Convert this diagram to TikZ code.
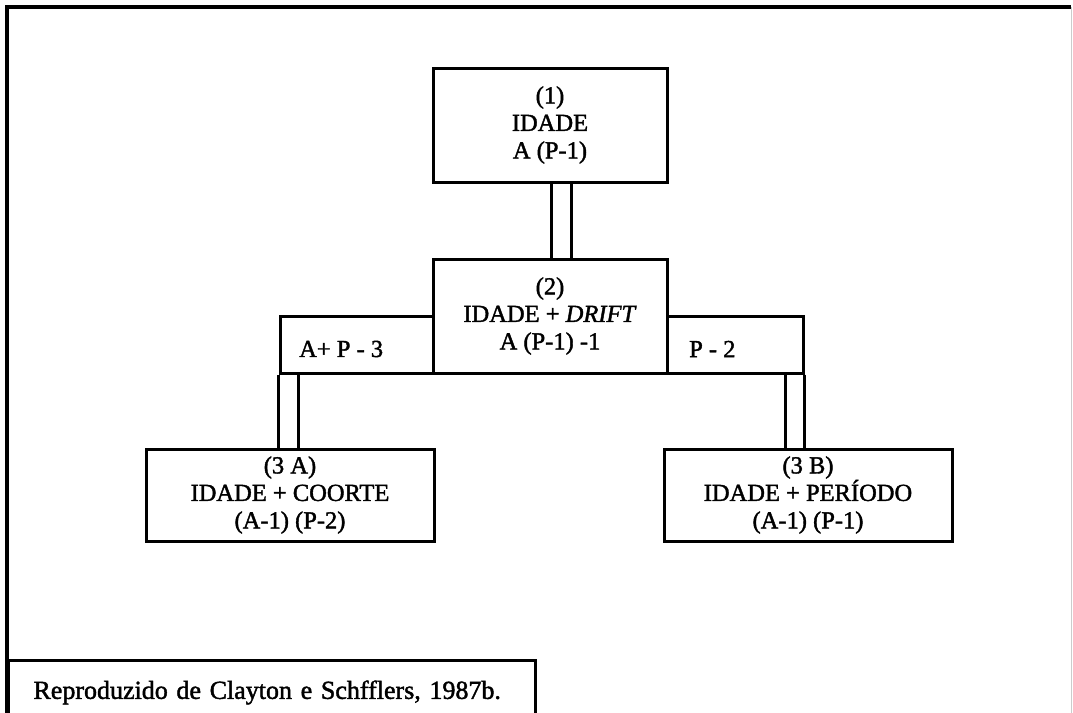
\documentclass[tikz,border=0pt]{standalone}
\usepackage{fontspec}
\setmainfont{Liberation Serif}[RawFeature={embolden=1.6}]
\begin{document}
\begin{tikzpicture}[x=1pt,y=-1pt,
  txt/.style={font=\fontsize{24.5}{27.5}\selectfont},
  box/.style={draw, line width=3pt, inner sep=0pt, align=center, txt},
  link/.style={line width=3pt},
  frame/.style={line width=3.4pt}]
\useasboundingbox (0,0) rectangle (1073,712);
\fill[white] (0,0) rectangle (1073,712);
% outer frame
\coordinate (fbl) at (7,740);
\coordinate (ftl) at (7,7);
\coordinate (ftr) at (1071,7);
\coordinate (fbr) at (1071,740);
\draw[frame] (fbl) -- (ftl) -- (ftr);
\draw[line width=1pt, black!20] (ftr) -- (fbr);
% boxes
\node[box, minimum width=234pt, minimum height=114pt] (b1) at (550,125) {(1)\\IDADE\\A (P-1)};
\node[box, minimum width=153pt, minimum height=57pt] (sl) at (356.5,344.5) {};
\node[box, minimum width=136pt, minimum height=57pt] (sr) at (735,344.5) {};
\node[box, fill=white, minimum width=234pt, minimum height=114pt] (b2) at (550,316) {(2)\\IDADE + \textit{DRIFT}\\A (P-1) -1};
\node[txt, anchor=west, inner sep=0pt] (ll) at (299,349) {A+ P - 3};
\node[txt, anchor=west, inner sep=0pt] (rl) at (689,349) {P - 2};
\node[box, minimum width=288pt, minimum height=92pt] (b3a) at (290,495) {(3 A)\\IDADE + COORTE\\(A-1) (P-2)};
\node[box, minimum width=288pt, minimum height=92pt] (b3b) at (808,495) {(3 B)\\IDADE + PERÍODO\\(A-1) (P-1)};
% connectors
\draw[link] ([xshift=1pt]b1.south) -- ([xshift=1pt]b2.north);
\draw[link] ([xshift=21pt]b1.south) -- ([xshift=21pt]b2.north);
\draw[link] (sl.south west) -- (sl.south west |- b3a.north);
\draw[link] ([xshift=20pt]sl.south west) -- ([xshift=20pt]sl.south west |- b3a.north);
\draw[link] (sr.south east) -- (sr.south east |- b3b.north);
\draw[link] ([xshift=-19pt]sr.south east) -- ([xshift=-19pt]sr.south east |- b3b.north);
% caption
\node[box, font=\fontsize{26}{30}\selectfont, anchor=north west, minimum width=527pt, minimum height=64pt, inner xsep=25pt, text width=477pt, align=left] (cap) at (7,659) {Reproduzido de Clayton e Schfflers, 1987b.};
\end{tikzpicture}
\end{document}
